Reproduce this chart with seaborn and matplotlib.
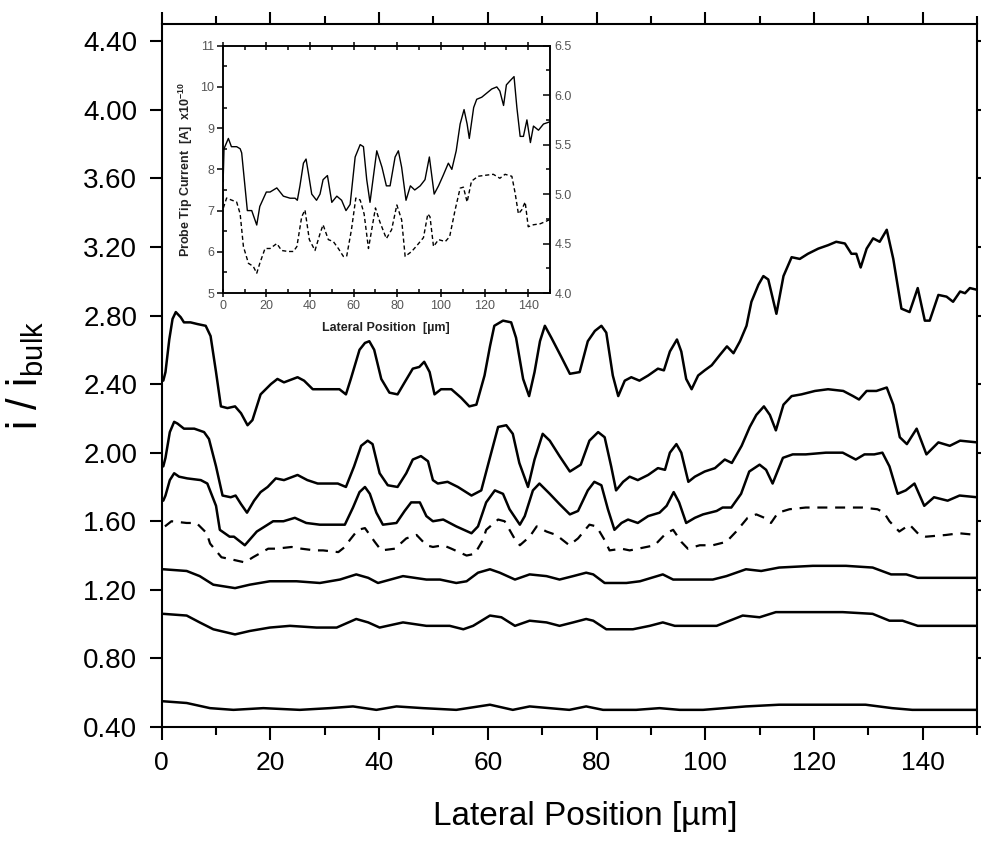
import numpy as np
import pandas as pd
import matplotlib
matplotlib.use("Agg")
import matplotlib.pyplot as plt
import seaborn as sns
from matplotlib.ticker import MultipleLocator, FormatStrFormatter

# main chart: normalised current profiles, (lateral position um, i/i_bulk)
curve1 = [(0.3, 2.42), (0.7, 2.47), (1.4, 2.66), (2.0, 2.78), (2.6, 2.82), (3.5, 2.79), (4.1, 2.76), (5.3, 2.76), (6.6, 2.75),
          (8.1, 2.74), (9.0, 2.68), (10.0, 2.47), (10.9, 2.27), (12.1, 2.26), (13.5, 2.27), (14.6, 2.23), (15.8, 2.16),
          (16.7, 2.19), (18.2, 2.34), (20.1, 2.40), (21.3, 2.43), (22.5, 2.41), (25.0, 2.44), (26.2, 2.42), (27.8, 2.37),
          (29.3, 2.37), (30.5, 2.37), (32.7, 2.37), (33.9, 2.34), (34.8, 2.43), (36.4, 2.60), (37.4, 2.64), (38.2, 2.65), (39.1, 2.60),
          (40.4, 2.43), (41.9, 2.35), (43.4, 2.34), (44.7, 2.41), (46.2, 2.49), (47.4, 2.50), (48.3, 2.53), (49.3, 2.47),
          (50.2, 2.34), (51.4, 2.37), (53.3, 2.37), (55.1, 2.32), (56.6, 2.27), (57.9, 2.28), (59.4, 2.45), (60.4, 2.62), (61.2, 2.74),
          (62.8, 2.77), (64.3, 2.76), (65.2, 2.67), (66.5, 2.43), (67.6, 2.33), (68.6, 2.47), (69.6, 2.65), (70.5, 2.74), (71.7, 2.67),
          (73.5, 2.56), (75.1, 2.46), (76.9, 2.47), (78.4, 2.65), (79.7, 2.71), (80.9, 2.74), (81.8, 2.70), (83.0, 2.45),
          (84.0, 2.33), (85.2, 2.42), (86.4, 2.44), (87.9, 2.42), (89.5, 2.45), (91.3, 2.49), (92.4, 2.48), (93.5, 2.59),
          (94.8, 2.66), (95.6, 2.59), (96.5, 2.43), (97.5, 2.37), (98.7, 2.45), (99.9, 2.48), (101.2, 2.51), (102.7, 2.57),
          (104.0, 2.62), (105.2, 2.58), (106.4, 2.65), (107.6, 2.74), (108.5, 2.88), (109.8, 2.98), (110.7, 3.03),
          (111.6, 3.01), (113.1, 2.81), (114.4, 3.03), (115.9, 3.14), (117.4, 3.13), (118.9, 3.16), (120.8, 3.19),
          (122.6, 3.21), (124.1, 3.23), (125.7, 3.22), (126.9, 3.16), (127.8, 3.16), (128.6, 3.08), (129.7, 3.19),
          (130.9, 3.25), (132.1, 3.23), (133.4, 3.30), (134.6, 3.13), (136.1, 2.84), (137.6, 2.82), (139.1, 2.96),
          (140.4, 2.77), (141.3, 2.77), (142.9, 2.92), (144.4, 2.91), (145.6, 2.88), (146.9, 2.94), (147.8, 2.93),
          (148.7, 2.96), (150.0, 2.95)]

curve2 = [(0.3, 1.92), (0.7, 1.97), (1.5, 2.12), (2.3, 2.18), (2.9, 2.17), (4.1, 2.14), (6.0, 2.14), (7.8, 2.12), (8.7, 2.08),
          (10.0, 1.92), (11.2, 1.75), (12.7, 1.74), (13.6, 1.75), (14.6, 1.70), (15.7, 1.65), (17.0, 1.72), (18.2, 1.77),
          (19.5, 1.80), (21.0, 1.85), (22.5, 1.84), (25.0, 1.87), (26.8, 1.84), (28.7, 1.82), (30.5, 1.82), (32.4, 1.82),
          (33.9, 1.80), (35.4, 1.92), (36.7, 2.04), (37.9, 2.07), (38.8, 2.05), (40.1, 1.88), (41.6, 1.81), (43.4, 1.80),
          (45.0, 1.88), (46.2, 1.96), (47.7, 1.98), (49.0, 1.95), (49.9, 1.84), (50.8, 1.82), (52.6, 1.83), (54.5, 1.80),
          (57.0, 1.75), (58.8, 1.78), (60.3, 1.96), (61.9, 2.15), (63.4, 2.16), (64.6, 2.11), (65.8, 1.94), (67.4, 1.80),
          (68.6, 1.96), (70.1, 2.11), (71.4, 2.07), (73.2, 1.98), (75.1, 1.89), (77.1, 1.93), (78.7, 2.07), (80.3, 2.12),
          (81.5, 2.09), (82.7, 1.92), (83.6, 1.78), (84.9, 1.83), (86.1, 1.86), (87.6, 1.84), (89.5, 1.87), (91.3, 1.91),
          (92.6, 1.90), (93.5, 2.00), (94.7, 2.05), (95.6, 2.00), (96.9, 1.83), (98.1, 1.86), (99.9, 1.89), (101.8, 1.91),
          (103.6, 1.96), (104.9, 1.94), (106.7, 2.04), (108.2, 2.15), (109.4, 2.22), (110.8, 2.27), (111.9, 2.22),
          (113.0, 2.13), (114.4, 2.28), (115.9, 2.33), (117.7, 2.34), (120.2, 2.36), (122.6, 2.37), (125.4, 2.36),
          (127.2, 2.33), (128.3, 2.31), (129.7, 2.36), (131.5, 2.36), (133.4, 2.38), (134.6, 2.28), (135.8, 2.09),
          (137.1, 2.05), (138.9, 2.14), (140.7, 1.99), (142.9, 2.06), (145.0, 2.04), (146.9, 2.07), (150.0, 2.06)]

curve3 = [(0.3, 1.72), (0.7, 1.75), (1.5, 1.84), (2.3, 1.88), (3.2, 1.86), (4.7, 1.85), (7.2, 1.84), (8.4, 1.82), (10.0, 1.69),
          (10.7, 1.55), (12.5, 1.51), (13.3, 1.51), (15.3, 1.46), (17.5, 1.54), (20.5, 1.60), (22.4, 1.60), (24.5, 1.62),
          (26.6, 1.59), (29.1, 1.58), (31.5, 1.58), (33.7, 1.58), (35.2, 1.68), (36.4, 1.77), (37.4, 1.80), (38.3, 1.76),
          (39.5, 1.65), (40.7, 1.58), (43.2, 1.59), (44.7, 1.66), (45.9, 1.71), (47.5, 1.71), (48.7, 1.63), (49.9, 1.60),
          (51.8, 1.61), (54.2, 1.57), (57.0, 1.53), (58.2, 1.57), (59.7, 1.71), (61.3, 1.78), (62.8, 1.76), (64.0, 1.67),
          (65.9, 1.58), (66.8, 1.63), (68.3, 1.78), (69.5, 1.82), (71.4, 1.76), (73.2, 1.70), (75.1, 1.64), (76.6, 1.66),
          (78.4, 1.78), (79.6, 1.83), (80.9, 1.81), (82.1, 1.67), (83.3, 1.55), (84.6, 1.59), (85.8, 1.61), (87.6, 1.59),
          (89.5, 1.63), (91.6, 1.65), (92.9, 1.69), (94.2, 1.77), (95.2, 1.71), (96.5, 1.59), (98.1, 1.62), (99.6, 1.64),
          (102.1, 1.66), (103.2, 1.68), (104.8, 1.68), (106.6, 1.76), (108.1, 1.89), (110.0, 1.93), (111.2, 1.90),
          (112.4, 1.82), (114.3, 1.97), (116.1, 1.99), (118.5, 1.99), (122.2, 2.00), (125.3, 2.00), (127.7, 1.96),
          (129.3, 1.99), (131.1, 1.99), (132.6, 2.00), (133.9, 1.92), (135.4, 1.76), (136.9, 1.78), (138.5, 1.82),
          (140.3, 1.69), (142.1, 1.74), (144.6, 1.72), (146.8, 1.75), (150.0, 1.74)]

curve4_dashed = [(0.6, 1.57), (1.8, 1.60), (4.6, 1.59), (6.4, 1.59), (8.3, 1.53), (8.9, 1.47), (11.0, 1.39), (12.5, 1.38),
                 (15.3, 1.36), (16.8, 1.39), (19.6, 1.44), (21.1, 1.44), (23.9, 1.45), (25.7, 1.44), (28.2, 1.43),
                 (29.7, 1.43), (32.5, 1.42), (33.7, 1.45), (34.6, 1.49), (36.1, 1.55), (37.4, 1.56), (39.2, 1.48),
                 (40.4, 1.43), (42.9, 1.44), (45.0, 1.50), (46.9, 1.52), (48.7, 1.46), (49.9, 1.45), (51.8, 1.46),
                 (53.3, 1.44), (56.1, 1.40), (57.6, 1.41), (59.1, 1.49), (59.7, 1.55), (61.9, 1.61), (63.1, 1.60),
                 (64.9, 1.50), (65.9, 1.46), (67.7, 1.51), (69.0, 1.57), (70.8, 1.54), (72.6, 1.52), (75.0, 1.46),
                 (76.6, 1.50), (78.7, 1.58), (80.0, 1.57), (81.5, 1.49), (82.4, 1.43), (84.6, 1.44), (86.1, 1.43),
                 (89.2, 1.45), (90.7, 1.46), (92.8, 1.53), (94.1, 1.55), (95.6, 1.48), (96.8, 1.44), (99.0, 1.46),
                 (101.4, 1.46), (103.9, 1.48), (105.7, 1.54), (107.8, 1.62), (109.4, 1.64), (110.9, 1.62), (112.1, 1.59),
                 (113.4, 1.65), (115.5, 1.67), (118.5, 1.68), (122.2, 1.68), (125.3, 1.68), (128.9, 1.68), (131.7, 1.67),
                 (132.9, 1.65), (133.9, 1.60), (135.7, 1.54), (137.6, 1.58), (139.4, 1.52), (140.6, 1.51), (144.3, 1.52),
                 (146.7, 1.53), (150.0, 1.52)]

curve5 = [(0.3, 1.32), (4.6, 1.31), (7.0, 1.28), (9.5, 1.23), (13.5, 1.21), (16.2, 1.23), (19.9, 1.25), (24.8, 1.25),
          (29.1, 1.24), (32.8, 1.26), (35.8, 1.29), (38.0, 1.27), (39.8, 1.24), (44.4, 1.28), (48.7, 1.26), (51.2, 1.26),
          (54.2, 1.24), (56.1, 1.25), (58.2, 1.30), (60.4, 1.32), (62.2, 1.30), (65.0, 1.26), (67.7, 1.29), (70.8, 1.28),
          (73.2, 1.26), (75.7, 1.28), (78.1, 1.30), (79.4, 1.29), (81.5, 1.24), (85.5, 1.24), (88.0, 1.25), (92.2, 1.29),
          (94.1, 1.26), (97.7, 1.26), (101.4, 1.26), (103.9, 1.28), (107.5, 1.32), (110.3, 1.31), (113.6, 1.33),
          (119.8, 1.34), (125.9, 1.34), (130.8, 1.33), (134.2, 1.29), (137.0, 1.29), (139.1, 1.27), (143.7, 1.27),
          (150.0, 1.27)]

curve6 = [(0.3, 1.06), (4.6, 1.05), (7.0, 1.01), (9.5, 0.97), (13.5, 0.94), (16.2, 0.96), (19.9, 0.98), (23.6, 0.99),
          (28.5, 0.98), (32.2, 0.98), (35.8, 1.03), (38.0, 1.01), (40.1, 0.98), (44.4, 1.01), (48.7, 0.99), (53.0, 0.99),
          (55.5, 0.97), (57.3, 0.99), (60.4, 1.05), (62.5, 1.04), (65.0, 0.99), (67.7, 1.02), (70.8, 1.01), (73.2, 0.99),
          (75.7, 1.01), (78.1, 1.03), (79.4, 1.02), (81.8, 0.97), (86.7, 0.97), (89.8, 0.99), (92.2, 1.01), (94.4, 0.99),
          (99.0, 0.99), (102.1, 0.99), (106.9, 1.05), (110.0, 1.04), (113.0, 1.07), (119.2, 1.07), (125.3, 1.07),
          (130.8, 1.06), (133.9, 1.02), (136.3, 1.02), (139.1, 0.99), (143.7, 0.99), (150.0, 0.99)]

curve7 = [(0.3, 0.55), (4.6, 0.54), (8.9, 0.51), (13.2, 0.50), (18.7, 0.51), (25.4, 0.50), (30.9, 0.51), (35.2, 0.52),
          (39.5, 0.50), (43.2, 0.52), (48.1, 0.51), (54.2, 0.50), (60.4, 0.53), (64.6, 0.50), (67.7, 0.52), (75.0, 0.50),
          (78.1, 0.52), (81.2, 0.50), (87.3, 0.50), (91.6, 0.51), (95.3, 0.50), (99.6, 0.50), (107.5, 0.52),
          (113.6, 0.53), (122.2, 0.53), (129.5, 0.53), (134.4, 0.51), (138.1, 0.50), (150.0, 0.50)]

# inset: raw probe tip current (x1e-10 A), solid on left axis, dashed on right axis
inset_solid = [(0.2, 7.7), (0.6, 8.5), (2.6, 8.75), (4.0, 8.55), (6.4, 8.55), (8.0, 8.5), (8.7, 8.4), (11.3, 7.0),
               (13.3, 7.0), (15.6, 6.65), (17.0, 7.1), (20.0, 7.45), (21.7, 7.45), (24.8, 7.55), (27.8, 7.35), (30.9, 7.3),
               (33.2, 7.3), (34.2, 7.25), (35.4, 7.6), (37.0, 8.15), (38.2, 8.25), (39.3, 7.9), (40.8, 7.4), (43.0, 7.25),
               (44.6, 7.4), (46.0, 7.75), (48.0, 7.85), (50.0, 7.2), (52.3, 7.35), (54.5, 7.25), (56.5, 7.0), (58.4, 7.15),
               (60.7, 8.3), (63.0, 8.6), (64.5, 8.55), (66.0, 7.75), (67.5, 7.2), (70.6, 8.45), (73.0, 8.05), (75.0, 7.6),
               (76.7, 7.6), (79.0, 8.3), (80.5, 8.45), (82.0, 8.05), (84.0, 7.25), (86.0, 7.6), (88.0, 7.5), (90.5, 7.6),
               (92.7, 7.75), (94.7, 8.3), (96.9, 7.4), (98.9, 7.6), (101.0, 7.85), (103.4, 8.15), (105.0, 8.0),
               (107.0, 8.45), (108.8, 9.1), (110.6, 9.45), (112.0, 9.1), (113.0, 8.75), (115.0, 9.5), (116.4, 9.7),
               (118.7, 9.75), (121.0, 9.85), (123.3, 9.95), (125.6, 10.0), (127.0, 9.9), (128.7, 9.55), (130.0, 10.05),
               (131.7, 10.15), (133.5, 10.25), (134.8, 9.5), (136.3, 8.8), (137.8, 8.8), (139.4, 9.2), (141.0, 8.65),
               (142.4, 9.05), (144.7, 8.95), (147.0, 9.1), (149.7, 9.15)]

inset_dashed = [(0.3, 4.86), (1.8, 4.96), (4.0, 4.94), (6.4, 4.92), (8.0, 4.8), (9.5, 4.47), (11.8, 4.3), (14.0, 4.27),
                (15.6, 4.2), (17.0, 4.3), (19.4, 4.45), (21.7, 4.45), (24.8, 4.5), (27.0, 4.43), (30.0, 4.42),
                (32.4, 4.42), (34.0, 4.47), (36.2, 4.77), (37.7, 4.84), (39.7, 4.54), (42.3, 4.43), (44.6, 4.6),
                (46.0, 4.69), (48.4, 4.54), (50.7, 4.52), (53.0, 4.45), (55.3, 4.37), (56.8, 4.37), (59.0, 4.64),
                (61.0, 4.96), (63.0, 4.94), (64.8, 4.8), (66.8, 4.45), (70.0, 4.86), (72.0, 4.72), (75.0, 4.55),
                (77.4, 4.64), (79.8, 4.89), (82.0, 4.74), (83.6, 4.37), (86.6, 4.42), (89.0, 4.48), (92.0, 4.56),
                (94.0, 4.8), (95.0, 4.77), (96.6, 4.47), (98.9, 4.54), (102.0, 4.52), (104.0, 4.57), (106.5, 4.84),
                (108.8, 5.06), (110.3, 5.07), (112.0, 4.92), (114.0, 5.13), (117.0, 5.18), (120.3, 5.19), (124.0, 5.2),
                (127.0, 5.16), (129.4, 5.2), (132.5, 5.18), (134.0, 5.01), (135.5, 4.8), (137.0, 4.84), (138.6, 4.92),
                (140.0, 4.67), (142.4, 4.69), (145.5, 4.7), (149.7, 4.74)]

main_yticks = [0.40, 0.80, 1.20, 1.60, 2.00, 2.40, 2.80, 3.20, 3.60, 4.00, 4.40]
main_xticks = [0, 20, 40, 60, 80, 100, 120, 140]
inset_xticks = [0, 20, 40, 60, 80, 100, 120, 140]
inset_left_ticks = [5, 6, 7, 8, 9, 10, 11]
inset_right_ticks = [4.0, 4.5, 5.0, 5.5, 6.0, 6.5]


def to_df(pairs):
    return pd.DataFrame(pairs, columns=["pos", "val"])


sns.set_style("ticks")
plt.rcParams["font.family"] = ["Liberation Sans", "DejaVu Sans"]
plt.rcParams["mathtext.default"] = "regular"
for key in ["text.color", "axes.labelcolor", "xtick.color", "ytick.color", "axes.edgecolor"]:
    plt.rcParams[key] = "black"

fig = plt.figure(figsize=(9.81, 8.43), dpi=100)
ax = fig.add_axes([0.1648, 0.1376, 0.8311, 0.8339])

for pairs in [curve1, curve2, curve3, curve5, curve6, curve7]:
    sns.lineplot(data=to_df(pairs), x="pos", y="val", ax=ax, color="black", linewidth=1.8,
                 estimator=None, sort=False, solid_joinstyle="round", solid_capstyle="round")
sns.lineplot(data=to_df(curve4_dashed), x="pos", y="val", ax=ax, color="black", linewidth=1.6,
             linestyle=(0, (4.5, 3.5)), estimator=None, sort=False)

ax.set_xlim(0, 150)
ax.set_ylim(0.40, 4.50)
ax.set_yticks(main_yticks)
ax.yaxis.set_major_formatter(FormatStrFormatter("%.2f"))
ax.set_xticks(main_xticks)
ax.xaxis.set_minor_locator(MultipleLocator(10))
for s in ax.spines.values():
    s.set_linewidth(1.5)
    s.set_visible(True)
ax.tick_params(axis="y", which="major", direction="out", length=8.5, width=1.5, labelsize=20,
               pad=9, right=True, left=True)
ax.tick_params(axis="x", which="major", direction="out", length=9, width=1.5, labelsize=19,
               pad=8, top=True, bottom=True)
ax.tick_params(axis="x", which="minor", direction="out", length=6, width=1.5, top=True, bottom=True)
ax.set_xlabel("Lateral Position [µm]", fontsize=24)
ax.xaxis.set_label_coords(0.519, -0.105)
ax.set_ylabel(r"i / i$_{\mathregular{bulk}}$", fontsize=30)
ax.yaxis.set_label_coords(-0.142, 0.5)

# inset
axi = fig.add_axes([0.227, 0.6524, 0.3337, 0.2934])
axi.set_facecolor("white")
sns.lineplot(data=to_df(inset_solid), x="pos", y="val", ax=axi, color="black", linewidth=1.0,
             estimator=None, sort=False)
axi.set_xlim(0, 150)
axi.set_ylim(5, 11)
axi.set_xticks(inset_xticks)
axi.xaxis.set_minor_locator(MultipleLocator(10))
axi.yaxis.set_minor_locator(MultipleLocator(0.5))
axi.set_yticks(inset_left_ticks)

axr = axi.twinx()
sns.lineplot(data=to_df(inset_dashed), x="pos", y="val", ax=axr, color="black", linewidth=1.0,
             linestyle=(0, (3, 2)), estimator=None, sort=False)
axr.set_ylim(4.0, 6.5)
axr.set_yticks(inset_right_ticks)
axr.yaxis.set_minor_locator(MultipleLocator(0.25))
axr.yaxis.set_major_formatter(FormatStrFormatter("%.1f"))
axr.set_ylabel("")

for a in (axi, axr):
    for s in a.spines.values():
        s.set_linewidth(1.1)
        s.set_visible(True)
axi.tick_params(axis="x", which="major", direction="inout", length=6, width=1.1, labelsize=9,
                labelcolor="#555555", pad=2, top=True)
axi.tick_params(axis="x", which="minor", direction="in", length=3, width=1.1, top=True)
axi.tick_params(axis="y", which="major", direction="out", length=4, width=1.1, labelsize=9,
                labelcolor="#555555", pad=2)
axi.tick_params(axis="y", which="minor", direction="in", length=3, width=1.1)
axr.tick_params(axis="y", which="major", direction="in", length=5, width=1.1, labelsize=9,
                labelcolor="#555555", pad=3)
axr.tick_params(axis="y", which="minor", direction="in", length=3, width=1.1)
axi.set_xlabel("Lateral Position  [µm]", fontsize=9, fontweight="bold", color="#222222", labelpad=7)
axi.set_ylabel(r"Probe Tip Current  [A]  x10$^{-10}$", fontsize=9, fontweight="bold", color="#222222",
               labelpad=4)

fig.savefig("out.png", dpi=100)
